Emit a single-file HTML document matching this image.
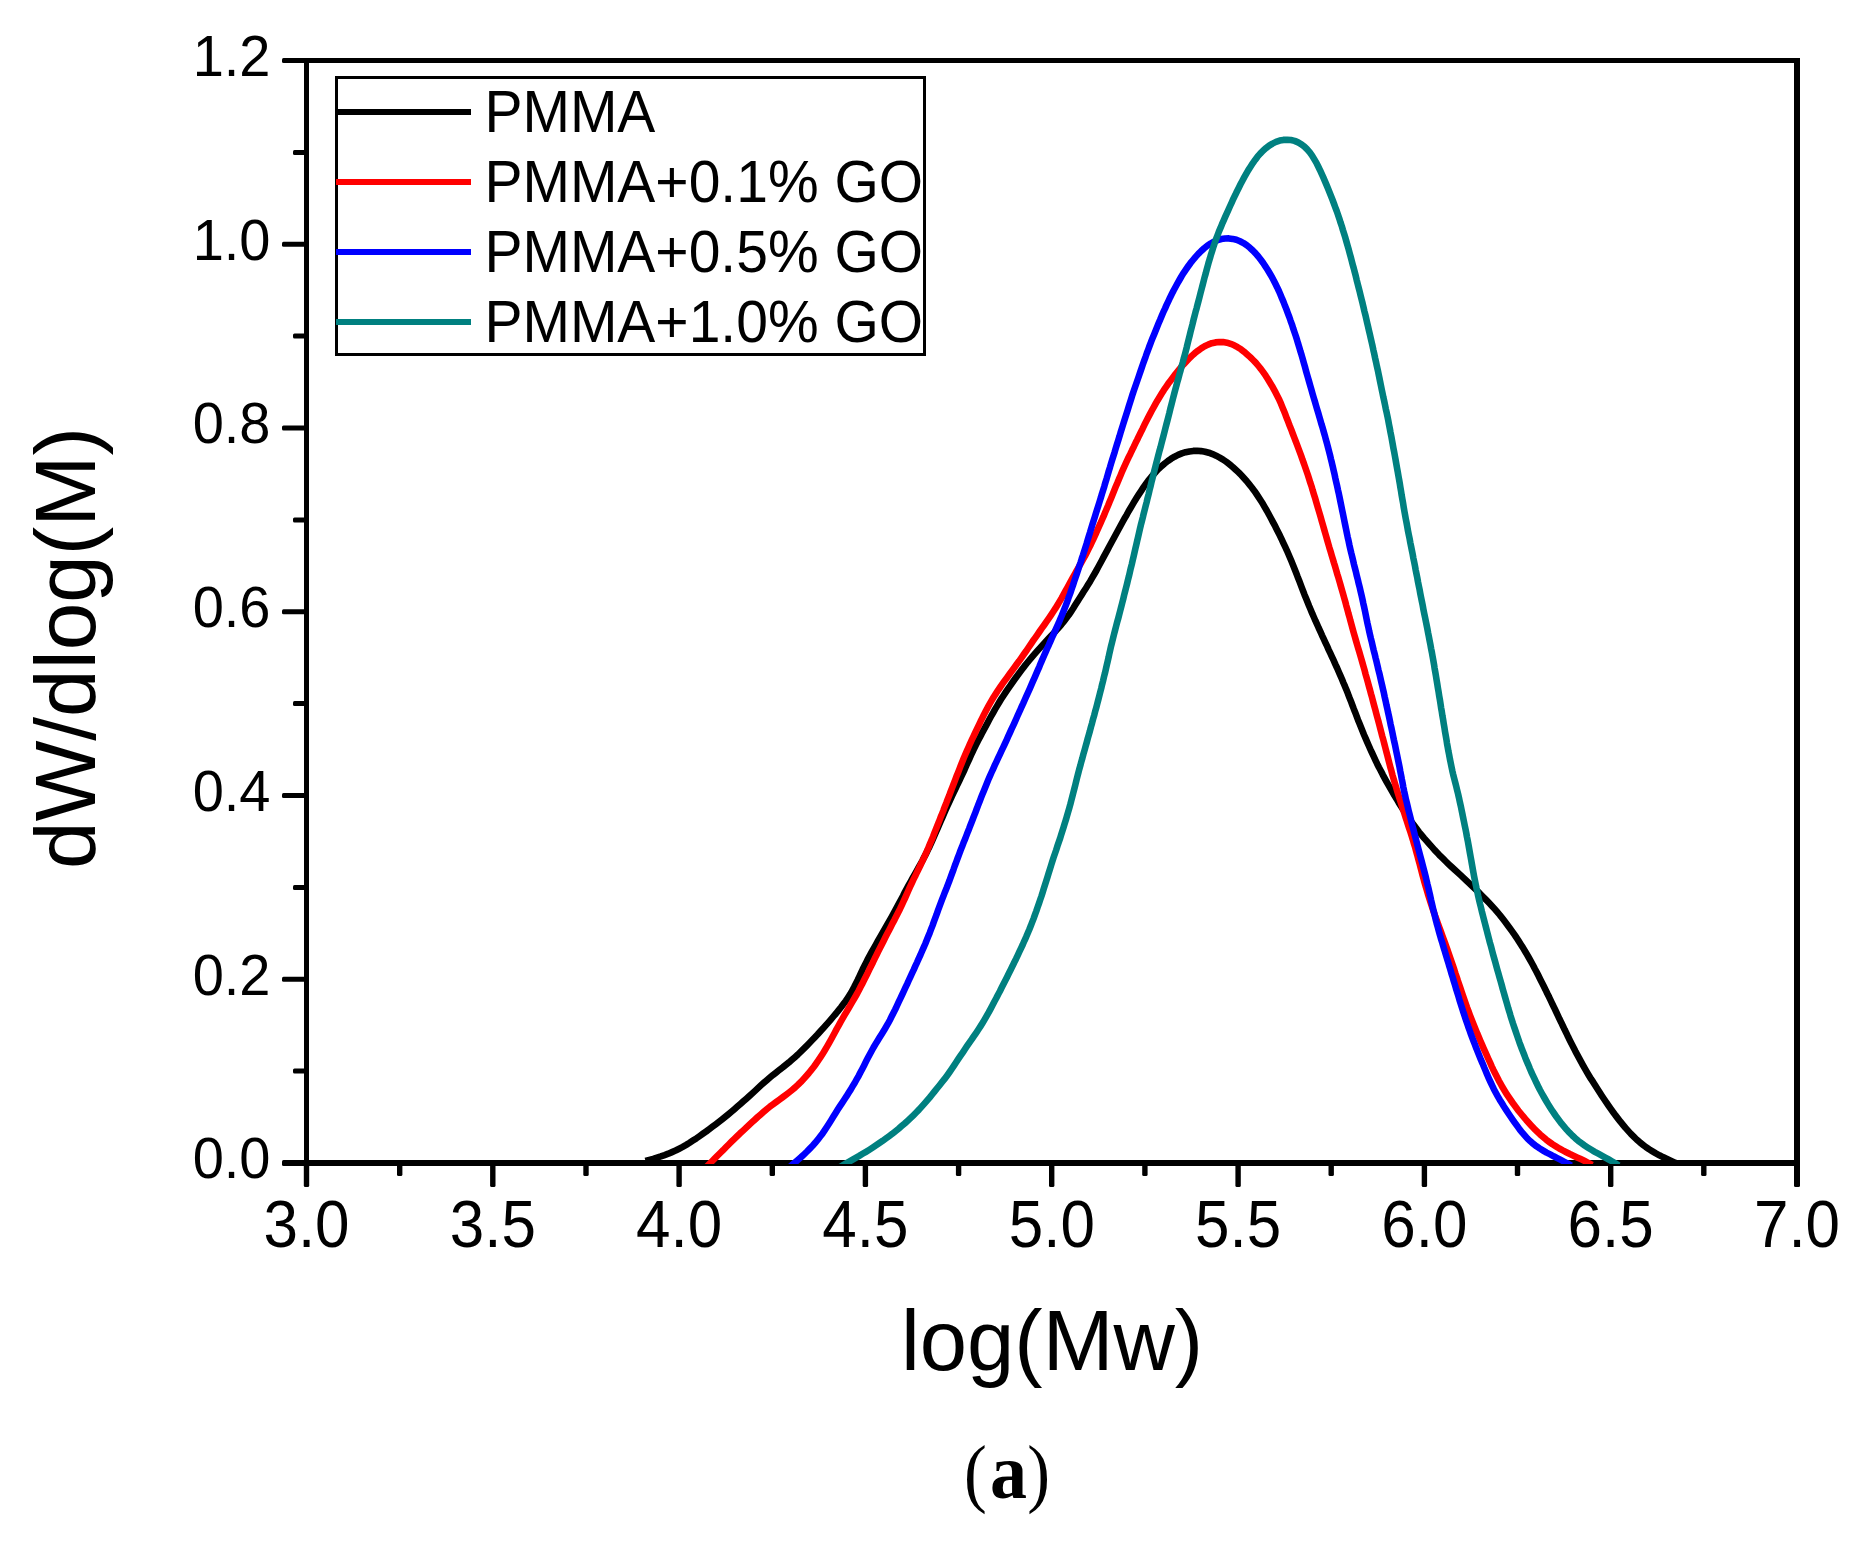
<!DOCTYPE html>
<html><head><meta charset="utf-8"><title>chart</title>
<style>
html,body{margin:0;padding:0;background:#fff;}
body{width:1862px;height:1542px;overflow:hidden;}
svg{display:block;}
text{font-family:"Liberation Sans",sans-serif;fill:#000;}
.ser{font-family:"Liberation Serif",serif;}
</style></head><body>
<svg width="1862" height="1542" viewBox="0 0 1862 1542">
<rect width="1862" height="1542" fill="#fff"/>

<g fill="#000" shape-rendering="crispEdges">
<rect x="304" y="58" width="5" height="1108"/>
<rect x="1794" y="58" width="6" height="1108"/>
<rect x="304" y="58" width="1496" height="5"/>
<rect x="304" y="1160" width="1496" height="6"/>
</g>
<g fill="#000">
<rect x="282" y="1160.0" width="24" height="6.0" rx="1.5"/>
<rect x="293" y="1068.6" width="13" height="5.0" rx="1.5"/>
<rect x="282" y="976.8" width="24" height="5.0" rx="1.5"/>
<rect x="293" y="884.9" width="13" height="5.0" rx="1.5"/>
<rect x="282" y="793.0" width="24" height="5.0" rx="1.5"/>
<rect x="293" y="701.1" width="13" height="5.0" rx="1.5"/>
<rect x="282" y="609.2" width="24" height="5.0" rx="1.5"/>
<rect x="293" y="517.4" width="13" height="5.0" rx="1.5"/>
<rect x="282" y="425.5" width="24" height="5.0" rx="1.5"/>
<rect x="293" y="333.6" width="13" height="5.0" rx="1.5"/>
<rect x="282" y="241.8" width="24" height="5.0" rx="1.5"/>
<rect x="293" y="149.9" width="13" height="5.0" rx="1.5"/>
<rect x="282" y="58.0" width="24" height="5.0" rx="1.5"/>
<rect x="303.8" y="1162" width="5.4" height="25" rx="1.5"/>
<rect x="397.0" y="1162" width="5.4" height="14" rx="1.5"/>
<rect x="490.1" y="1162" width="5.4" height="25" rx="1.5"/>
<rect x="583.3" y="1162" width="5.4" height="14" rx="1.5"/>
<rect x="676.4" y="1162" width="5.4" height="25" rx="1.5"/>
<rect x="769.6" y="1162" width="5.4" height="14" rx="1.5"/>
<rect x="862.7" y="1162" width="5.4" height="25" rx="1.5"/>
<rect x="955.9" y="1162" width="5.4" height="14" rx="1.5"/>
<rect x="1049.0" y="1162" width="5.4" height="25" rx="1.5"/>
<rect x="1142.2" y="1162" width="5.4" height="14" rx="1.5"/>
<rect x="1235.4" y="1162" width="5.4" height="25" rx="1.5"/>
<rect x="1328.5" y="1162" width="5.4" height="14" rx="1.5"/>
<rect x="1421.7" y="1162" width="5.4" height="25" rx="1.5"/>
<rect x="1514.8" y="1162" width="5.4" height="14" rx="1.5"/>
<rect x="1608.0" y="1162" width="5.4" height="25" rx="1.5"/>
<rect x="1701.1" y="1162" width="5.4" height="14" rx="1.5"/>
<rect x="1794.0" y="1162" width="6.0" height="25" rx="1.5"/>
</g>
<clipPath id="cp"><rect x="300" y="50" width="1510" height="1114"/></clipPath>
<g fill="none" stroke-width="6.6" stroke-linejoin="round" stroke-linecap="butt" clip-path="url(#cp)">
<path stroke="#000" d="M645.5,1161.0 L649.4,1159.9 L653.2,1158.8 L657.0,1157.6 L660.8,1156.4 L664.6,1155.1 L668.3,1153.7 L672.0,1152.1 L675.6,1150.5 L679.2,1148.7 L682.7,1146.9 L686.2,1144.9 L689.6,1142.8 L692.9,1140.6 L696.3,1138.4 L699.6,1136.1 L702.8,1133.8 L706.1,1131.5 L709.3,1129.1 L712.5,1126.7 L715.7,1124.3 L718.9,1121.9 L722.1,1119.4 L725.2,1116.9 L728.3,1114.4 L731.4,1111.8 L734.4,1109.2 L737.4,1106.6 L740.4,1104.0 L743.4,1101.3 L746.4,1098.7 L749.4,1096.0 L752.3,1093.3 L755.3,1090.6 L758.2,1087.9 L761.1,1085.2 L764.1,1082.5 L767.1,1079.9 L770.2,1077.3 L773.2,1074.8 L776.4,1072.3 L779.5,1069.8 L782.7,1067.4 L785.8,1064.9 L788.9,1062.4 L791.9,1059.8 L794.9,1057.2 L797.9,1054.5 L800.8,1051.7 L803.6,1048.9 L806.4,1046.1 L809.2,1043.2 L812.0,1040.3 L814.7,1037.4 L817.5,1034.5 L820.2,1031.5 L822.9,1028.6 L825.5,1025.6 L828.2,1022.6 L830.8,1019.6 L833.4,1016.5 L836.0,1013.5 L838.5,1010.4 L841.0,1007.3 L843.4,1004.1 L845.8,1000.9 L848.0,997.6 L850.1,994.3 L852.1,990.8 L854.0,987.3 L855.8,983.8 L857.6,980.2 L859.3,976.6 L861.0,973.0 L862.7,969.3 L864.5,965.7 L866.3,962.2 L868.1,958.6 L870.0,955.1 L871.9,951.6 L873.9,948.1 L875.9,944.6 L877.8,941.1 L879.8,937.6 L881.8,934.2 L883.8,930.7 L885.8,927.2 L887.8,923.7 L889.7,920.3 L891.7,916.8 L893.6,913.3 L895.5,909.8 L897.4,906.3 L899.3,902.7 L901.2,899.2 L903.1,895.7 L904.9,892.1 L906.8,888.6 L908.7,885.1 L910.7,881.6 L912.6,878.1 L914.6,874.6 L916.6,871.1 L918.5,867.7 L920.5,864.2 L922.4,860.7 L924.2,857.1 L926.1,853.6 L927.8,850.0 L929.6,846.4 L931.2,842.8 L932.9,839.1 L934.5,835.5 L936.1,831.8 L937.7,828.1 L939.3,824.5 L940.9,820.8 L942.5,817.1 L944.1,813.5 L945.7,809.8 L947.3,806.1 L949.0,802.5 L950.7,798.9 L952.4,795.2 L954.1,791.6 L955.8,788.0 L957.5,784.4 L959.3,780.8 L961.0,777.2 L962.7,773.6 L964.4,770.0 L966.0,766.3 L967.6,762.7 L969.3,759.0 L970.9,755.4 L972.6,751.8 L974.3,748.2 L976.1,744.6 L977.9,741.0 L979.8,737.5 L981.6,733.9 L983.5,730.4 L985.4,726.9 L987.3,723.4 L989.2,719.8 L991.1,716.3 L993.1,712.8 L995.0,709.4 L997.1,705.9 L999.1,702.5 L1001.2,699.1 L1003.4,695.7 L1005.6,692.4 L1007.8,689.1 L1010.1,685.8 L1012.4,682.5 L1014.7,679.3 L1017.1,676.0 L1019.5,672.8 L1021.9,669.6 L1024.3,666.4 L1026.8,663.3 L1029.3,660.2 L1031.9,657.1 L1034.5,654.1 L1037.1,651.1 L1039.8,648.1 L1042.5,645.1 L1045.2,642.2 L1047.9,639.3 L1050.7,636.3 L1053.4,633.4 L1056.1,630.5 L1058.8,627.5 L1061.4,624.5 L1063.9,621.4 L1066.3,618.3 L1068.7,615.1 L1070.9,611.8 L1073.1,608.5 L1075.2,605.1 L1077.3,601.7 L1079.5,598.3 L1081.6,594.9 L1083.7,591.6 L1085.9,588.2 L1088.0,584.8 L1090.1,581.4 L1092.1,577.9 L1094.1,574.5 L1096.1,571.0 L1098.0,567.5 L1099.9,564.0 L1101.8,560.5 L1103.7,556.9 L1105.6,553.4 L1107.5,549.9 L1109.4,546.3 L1111.3,542.8 L1113.2,539.3 L1115.1,535.8 L1117.0,532.3 L1118.9,528.8 L1120.8,525.2 L1122.7,521.7 L1124.7,518.2 L1126.7,514.8 L1128.6,511.3 L1130.7,507.8 L1132.7,504.4 L1134.7,500.9 L1136.8,497.5 L1139.0,494.1 L1141.2,490.8 L1143.4,487.4 L1145.7,484.2 L1148.1,480.9 L1150.6,477.8 L1153.2,474.7 L1155.9,471.7 L1158.7,468.8 L1161.6,466.1 L1164.7,463.5 L1167.9,461.0 L1171.2,458.7 L1174.6,456.7 L1178.1,454.9 L1181.8,453.4 L1185.6,452.2 L1189.4,451.4 L1193.3,450.9 L1197.2,450.8 L1201.1,451.1 L1205.0,451.7 L1208.8,452.7 L1212.5,454.1 L1216.1,455.7 L1219.7,457.6 L1223.1,459.6 L1226.4,461.9 L1229.6,464.4 L1232.7,467.0 L1235.7,469.7 L1238.6,472.4 L1241.4,475.3 L1244.1,478.3 L1246.8,481.3 L1249.3,484.4 L1251.8,487.5 L1254.2,490.7 L1256.5,494.0 L1258.7,497.3 L1260.9,500.7 L1263.0,504.1 L1265.0,507.6 L1267.0,511.0 L1268.9,514.5 L1270.8,518.0 L1272.7,521.6 L1274.6,525.1 L1276.4,528.7 L1278.2,532.3 L1280.0,535.8 L1281.7,539.4 L1283.4,543.1 L1285.1,546.7 L1286.8,550.3 L1288.4,554.0 L1290.0,557.7 L1291.5,561.3 L1293.0,565.0 L1294.5,568.8 L1296.0,572.5 L1297.4,576.2 L1298.9,579.9 L1300.3,583.7 L1301.7,587.4 L1303.2,591.2 L1304.6,594.9 L1306.1,598.6 L1307.6,602.3 L1309.1,606.0 L1310.7,609.7 L1312.2,613.4 L1313.8,617.0 L1315.4,620.7 L1317.1,624.4 L1318.7,628.0 L1320.4,631.6 L1322.0,635.3 L1323.7,638.9 L1325.4,642.6 L1327.1,646.2 L1328.7,649.8 L1330.4,653.4 L1332.1,657.1 L1333.8,660.7 L1335.4,664.4 L1337.1,668.0 L1338.7,671.7 L1340.3,675.3 L1341.9,679.0 L1343.4,682.7 L1345.0,686.4 L1346.5,690.1 L1348.0,693.8 L1349.4,697.5 L1350.9,701.2 L1352.3,705.0 L1353.7,708.7 L1355.2,712.4 L1356.6,716.2 L1358.0,719.9 L1359.5,723.6 L1361.0,727.3 L1362.5,731.0 L1364.0,734.7 L1365.6,738.4 L1367.2,742.1 L1368.8,745.8 L1370.4,749.4 L1372.1,753.0 L1373.8,756.7 L1375.5,760.3 L1377.2,763.9 L1379.0,767.5 L1380.9,771.0 L1382.7,774.6 L1384.6,778.1 L1386.5,781.6 L1388.5,785.1 L1390.5,788.6 L1392.5,792.0 L1394.5,795.5 L1396.6,798.9 L1398.6,802.4 L1400.7,805.8 L1402.9,809.2 L1405.1,812.5 L1407.3,815.9 L1409.5,819.2 L1411.8,822.4 L1414.2,825.6 L1416.6,828.8 L1419.0,832.0 L1421.6,835.1 L1424.1,838.1 L1426.8,841.1 L1429.4,844.1 L1432.1,847.1 L1434.7,850.1 L1437.5,853.0 L1440.2,855.9 L1443.1,858.7 L1445.9,861.5 L1448.8,864.3 L1451.7,867.0 L1454.7,869.7 L1457.6,872.4 L1460.6,875.1 L1463.5,877.8 L1466.4,880.6 L1469.3,883.3 L1472.2,886.1 L1475.1,888.8 L1478.0,891.6 L1480.8,894.5 L1483.6,897.3 L1486.4,900.1 L1489.2,903.0 L1491.9,905.9 L1494.6,908.9 L1497.2,911.9 L1499.8,915.0 L1502.2,918.1 L1504.7,921.3 L1507.1,924.5 L1509.5,927.7 L1511.8,930.9 L1514.1,934.2 L1516.4,937.5 L1518.6,940.9 L1520.7,944.2 L1522.9,947.6 L1524.9,951.0 L1527.0,954.5 L1529.0,958.0 L1530.9,961.4 L1532.9,965.0 L1534.7,968.5 L1536.6,972.0 L1538.4,975.6 L1540.2,979.2 L1542.0,982.7 L1543.8,986.3 L1545.6,989.9 L1547.3,993.5 L1549.1,997.1 L1550.8,1000.7 L1552.5,1004.3 L1554.3,1007.9 L1556.0,1011.5 L1557.7,1015.2 L1559.4,1018.8 L1561.2,1022.4 L1562.9,1026.0 L1564.6,1029.6 L1566.4,1033.2 L1568.1,1036.8 L1569.9,1040.4 L1571.7,1043.9 L1573.5,1047.5 L1575.3,1051.1 L1577.2,1054.6 L1579.1,1058.1 L1581.0,1061.6 L1582.9,1065.1 L1584.9,1068.6 L1586.9,1072.1 L1588.9,1075.5 L1591.0,1078.9 L1593.2,1082.2 L1595.3,1085.6 L1597.5,1089.0 L1599.6,1092.3 L1601.8,1095.7 L1604.0,1099.0 L1606.3,1102.3 L1608.5,1105.6 L1610.8,1108.9 L1613.2,1112.2 L1615.5,1115.4 L1618.0,1118.6 L1620.4,1121.7 L1623.0,1124.9 L1625.5,1127.9 L1628.2,1130.9 L1630.9,1133.9 L1633.7,1136.7 L1636.6,1139.5 L1639.6,1142.1 L1642.7,1144.6 L1645.8,1147.0 L1649.1,1149.3 L1652.5,1151.4 L1655.9,1153.4 L1659.4,1155.3 L1663.0,1157.1 L1666.6,1158.8 L1670.2,1160.5 L1673.9,1162.2 L1675.9,1163.1"/>
<path stroke="#f00" d="M703.3,1170.0 L706.1,1167.2 L709.0,1164.3 L711.8,1161.5 L714.6,1158.7 L717.4,1155.8 L720.2,1153.0 L723.1,1150.2 L725.9,1147.3 L728.7,1144.5 L731.5,1141.7 L734.4,1138.9 L737.2,1136.1 L740.1,1133.3 L743.1,1130.6 L746.0,1127.9 L748.9,1125.1 L751.8,1122.4 L754.8,1119.7 L757.7,1117.0 L760.7,1114.4 L763.7,1111.8 L766.7,1109.2 L769.8,1106.7 L773.0,1104.3 L776.2,1102.0 L779.5,1099.6 L782.7,1097.3 L785.9,1094.9 L789.0,1092.5 L792.1,1090.0 L795.2,1087.4 L798.1,1084.7 L800.9,1081.9 L803.6,1079.0 L806.3,1076.0 L808.9,1073.0 L811.4,1069.9 L813.9,1066.7 L816.2,1063.5 L818.5,1060.2 L820.7,1056.9 L822.9,1053.5 L825.0,1050.1 L827.0,1046.7 L829.0,1043.2 L830.9,1039.7 L832.8,1036.2 L834.7,1032.7 L836.6,1029.1 L838.6,1025.6 L840.5,1022.1 L842.5,1018.7 L844.5,1015.2 L846.5,1011.8 L848.6,1008.3 L850.6,1004.9 L852.6,1001.4 L854.6,998.0 L856.6,994.5 L858.5,991.0 L860.3,987.4 L862.2,983.9 L864.0,980.3 L865.8,976.7 L867.6,973.2 L869.3,969.6 L871.1,966.0 L872.9,962.4 L874.6,958.8 L876.4,955.2 L878.2,951.6 L880.0,948.1 L881.8,944.5 L883.6,940.9 L885.4,937.3 L887.2,933.8 L889.1,930.2 L890.9,926.7 L892.7,923.1 L894.6,919.6 L896.4,916.0 L898.2,912.4 L900.0,908.9 L901.7,905.3 L903.4,901.7 L905.1,898.0 L906.7,894.4 L908.3,890.7 L909.9,887.1 L911.6,883.5 L913.3,879.8 L915.1,876.3 L916.8,872.7 L918.6,869.1 L920.3,865.5 L922.0,861.9 L923.7,858.3 L925.4,854.6 L927.0,851.0 L928.6,847.3 L930.1,843.6 L931.7,839.9 L933.2,836.2 L934.6,832.5 L936.1,828.8 L937.6,825.0 L939.1,821.3 L940.5,817.6 L942.0,813.9 L943.5,810.2 L944.9,806.4 L946.4,802.7 L947.8,799.0 L949.3,795.3 L950.7,791.5 L952.1,787.8 L953.6,784.0 L955.0,780.3 L956.4,776.6 L957.9,772.9 L959.4,769.1 L960.8,765.4 L962.3,761.7 L963.8,758.0 L965.4,754.3 L967.0,750.6 L968.6,747.0 L970.2,743.3 L971.9,739.7 L973.6,736.1 L975.3,732.5 L977.0,728.9 L978.8,725.2 L980.5,721.6 L982.3,718.0 L984.0,714.5 L985.9,710.9 L987.7,707.4 L989.7,703.9 L991.7,700.4 L993.7,697.0 L995.9,693.6 L998.0,690.3 L1000.3,687.0 L1002.6,683.7 L1004.9,680.4 L1007.3,677.2 L1009.6,674.0 L1012.0,670.8 L1014.4,667.5 L1016.7,664.3 L1019.1,661.1 L1021.4,657.8 L1023.7,654.5 L1026.0,651.3 L1028.2,648.0 L1030.5,644.6 L1032.7,641.3 L1035.0,638.1 L1037.3,634.8 L1039.6,631.5 L1041.9,628.2 L1044.2,625.0 L1046.5,621.7 L1048.8,618.4 L1051.0,615.1 L1053.2,611.7 L1055.4,608.4 L1057.5,605.0 L1059.5,601.6 L1061.6,598.1 L1063.5,594.6 L1065.4,591.1 L1067.4,587.6 L1069.3,584.1 L1071.2,580.6 L1073.1,577.1 L1075.1,573.6 L1077.0,570.1 L1079.0,566.7 L1081.0,563.2 L1082.9,559.7 L1084.9,556.2 L1086.7,552.7 L1088.5,549.1 L1090.3,545.5 L1092.0,541.9 L1093.7,538.3 L1095.4,534.7 L1097.0,531.0 L1098.6,527.4 L1100.3,523.7 L1101.9,520.0 L1103.5,516.4 L1105.0,512.7 L1106.6,509.0 L1108.2,505.3 L1109.7,501.6 L1111.2,497.9 L1112.7,494.2 L1114.2,490.5 L1115.7,486.8 L1117.3,483.1 L1118.8,479.4 L1120.4,475.7 L1121.9,472.1 L1123.5,468.4 L1125.2,464.7 L1126.8,461.1 L1128.5,457.5 L1130.3,453.9 L1132.0,450.3 L1133.8,446.7 L1135.5,443.1 L1137.3,439.5 L1139.0,435.9 L1140.8,432.3 L1142.6,428.7 L1144.3,425.1 L1146.1,421.6 L1147.9,418.0 L1149.8,414.4 L1151.6,410.9 L1153.6,407.4 L1155.5,403.9 L1157.5,400.4 L1159.6,397.0 L1161.7,393.6 L1163.8,390.2 L1166.1,386.9 L1168.3,383.6 L1170.7,380.4 L1173.1,377.2 L1175.5,374.0 L1178.1,370.8 L1180.7,367.7 L1183.3,364.7 L1186.1,361.7 L1188.9,358.8 L1191.8,355.9 L1194.8,353.2 L1198.0,350.7 L1201.2,348.4 L1204.6,346.3 L1208.1,344.6 L1211.8,343.2 L1215.5,342.4 L1219.3,342.0 L1223.1,342.1 L1226.9,342.7 L1230.6,343.8 L1234.2,345.3 L1237.6,347.2 L1241.0,349.3 L1244.2,351.8 L1247.2,354.4 L1250.2,357.1 L1253.1,360.0 L1255.9,362.9 L1258.5,366.0 L1261.0,369.1 L1263.4,372.4 L1265.7,375.7 L1267.8,379.0 L1269.9,382.5 L1272.0,385.9 L1273.9,389.4 L1275.8,392.9 L1277.6,396.5 L1279.4,400.1 L1281.0,403.7 L1282.5,407.4 L1284.0,411.1 L1285.5,414.8 L1286.9,418.6 L1288.4,422.3 L1289.8,426.0 L1291.3,429.7 L1292.7,433.5 L1294.1,437.2 L1295.6,441.0 L1297.0,444.7 L1298.4,448.4 L1299.8,452.2 L1301.2,455.9 L1302.5,459.7 L1303.9,463.5 L1305.2,467.3 L1306.5,471.0 L1307.8,474.8 L1309.0,478.6 L1310.2,482.4 L1311.5,486.2 L1312.6,490.1 L1313.8,493.9 L1315.0,497.7 L1316.1,501.6 L1317.2,505.4 L1318.3,509.2 L1319.5,513.1 L1320.6,516.9 L1321.7,520.8 L1322.8,524.6 L1323.9,528.5 L1325.0,532.3 L1326.1,536.1 L1327.2,540.0 L1328.3,543.8 L1329.4,547.7 L1330.6,551.5 L1331.7,555.3 L1332.9,559.2 L1334.0,563.0 L1335.2,566.8 L1336.3,570.7 L1337.4,574.5 L1338.6,578.3 L1339.7,582.2 L1340.8,586.0 L1341.9,589.9 L1343.0,593.7 L1344.1,597.6 L1345.2,601.4 L1346.2,605.3 L1347.3,609.1 L1348.3,613.0 L1349.4,616.8 L1350.4,620.7 L1351.5,624.6 L1352.5,628.4 L1353.6,632.3 L1354.7,636.1 L1355.8,640.0 L1356.9,643.8 L1358.0,647.6 L1359.2,651.5 L1360.3,655.3 L1361.4,659.2 L1362.5,663.0 L1363.6,666.9 L1364.7,670.7 L1365.7,674.6 L1366.8,678.4 L1367.9,682.3 L1368.9,686.1 L1370.0,690.0 L1371.0,693.9 L1372.1,697.7 L1373.1,701.6 L1374.1,705.4 L1375.2,709.3 L1376.2,713.2 L1377.2,717.0 L1378.3,720.9 L1379.3,724.8 L1380.3,728.6 L1381.3,732.5 L1382.3,736.4 L1383.4,740.2 L1384.4,744.1 L1385.4,748.0 L1386.4,751.9 L1387.4,755.7 L1388.4,759.6 L1389.4,763.5 L1390.4,767.3 L1391.5,771.2 L1392.5,775.1 L1393.6,778.9 L1394.7,782.7 L1395.9,786.6 L1397.0,790.4 L1398.2,794.2 L1399.4,798.0 L1400.6,801.9 L1401.8,805.7 L1403.0,809.5 L1404.3,813.3 L1405.5,817.1 L1406.8,820.9 L1408.0,824.7 L1409.2,828.5 L1410.5,832.3 L1411.7,836.1 L1412.9,839.9 L1414.0,843.8 L1415.2,847.6 L1416.2,851.4 L1417.3,855.3 L1418.3,859.2 L1419.4,863.0 L1420.4,866.9 L1421.4,870.8 L1422.4,874.6 L1423.5,878.5 L1424.5,882.3 L1425.6,886.2 L1426.8,890.0 L1427.9,893.9 L1429.1,897.7 L1430.3,901.5 L1431.5,905.3 L1432.8,909.1 L1434.1,912.9 L1435.4,916.7 L1436.8,920.4 L1438.1,924.2 L1439.5,927.9 L1440.9,931.7 L1442.2,935.4 L1443.6,939.2 L1445.0,943.0 L1446.3,946.7 L1447.7,950.5 L1449.0,954.3 L1450.3,958.0 L1451.6,961.8 L1452.9,965.6 L1454.2,969.4 L1455.4,973.2 L1456.7,977.0 L1457.9,980.8 L1459.2,984.6 L1460.5,988.4 L1461.8,992.2 L1463.1,996.0 L1464.4,999.8 L1465.7,1003.5 L1467.0,1007.3 L1468.4,1011.0 L1469.8,1014.8 L1471.2,1018.5 L1472.7,1022.3 L1474.2,1026.0 L1475.7,1029.7 L1477.2,1033.4 L1478.8,1037.1 L1480.3,1040.7 L1481.9,1044.4 L1483.5,1048.1 L1485.1,1051.7 L1486.8,1055.4 L1488.4,1059.0 L1490.1,1062.7 L1491.7,1066.3 L1493.4,1069.9 L1495.2,1073.5 L1497.0,1077.1 L1498.8,1080.6 L1500.8,1084.1 L1502.7,1087.6 L1504.8,1091.0 L1506.9,1094.4 L1509.1,1097.7 L1511.4,1101.0 L1513.7,1104.3 L1516.1,1107.5 L1518.5,1110.7 L1521.0,1113.8 L1523.6,1116.9 L1526.2,1120.0 L1528.9,1123.0 L1531.6,1125.9 L1534.3,1128.8 L1537.2,1131.6 L1540.1,1134.4 L1543.1,1137.0 L1546.1,1139.6 L1549.3,1142.0 L1552.5,1144.3 L1555.9,1146.4 L1559.3,1148.5 L1562.8,1150.4 L1566.3,1152.2 L1569.9,1154.0 L1573.5,1155.7 L1577.1,1157.4 L1580.7,1159.1 L1584.3,1160.8 L1587.8,1162.6 L1591.3,1164.5 L1592.3,1165.0"/>
<path stroke="#00f" d="M786.1,1170.1 L789.1,1167.5 L792.2,1164.9 L795.2,1162.3 L798.2,1159.6 L801.2,1157.0 L804.1,1154.3 L807.0,1151.5 L809.8,1148.6 L812.6,1145.7 L815.2,1142.8 L817.8,1139.7 L820.2,1136.6 L822.6,1133.4 L824.8,1130.1 L827.0,1126.7 L829.1,1123.4 L831.3,1120.0 L833.4,1116.6 L835.5,1113.2 L837.6,1109.8 L839.8,1106.4 L842.0,1103.1 L844.2,1099.7 L846.4,1096.4 L848.5,1093.0 L850.7,1089.6 L852.7,1086.2 L854.8,1082.8 L856.7,1079.3 L858.7,1075.8 L860.5,1072.3 L862.4,1068.7 L864.2,1065.2 L866.0,1061.6 L867.8,1058.1 L869.7,1054.5 L871.6,1051.0 L873.5,1047.5 L875.5,1044.1 L877.6,1040.7 L879.7,1037.3 L881.8,1034.0 L883.9,1030.6 L885.9,1027.1 L887.9,1023.7 L889.8,1020.2 L891.6,1016.6 L893.4,1013.0 L895.2,1009.5 L896.9,1005.9 L898.6,1002.2 L900.3,998.6 L902.0,995.0 L903.7,991.4 L905.4,987.7 L907.1,984.1 L908.7,980.5 L910.4,976.8 L912.1,973.2 L913.8,969.6 L915.4,965.9 L917.1,962.3 L918.7,958.6 L920.4,955.0 L922.0,951.3 L923.6,947.7 L925.2,944.0 L926.7,940.3 L928.2,936.6 L929.7,932.9 L931.1,929.2 L932.6,925.4 L933.9,921.7 L935.3,917.9 L936.7,914.2 L938.0,910.4 L939.4,906.6 L940.8,902.9 L942.2,899.2 L943.7,895.4 L945.1,891.7 L946.6,888.0 L948.0,884.3 L949.5,880.5 L950.8,876.8 L952.2,873.0 L953.6,869.3 L954.9,865.5 L956.3,861.8 L957.7,858.0 L959.1,854.3 L960.5,850.5 L962.0,846.8 L963.4,843.1 L964.9,839.4 L966.4,835.6 L967.8,831.9 L969.3,828.2 L970.7,824.5 L972.2,820.7 L973.6,817.0 L975.1,813.3 L976.5,809.5 L977.9,805.8 L979.4,802.1 L980.8,798.3 L982.3,794.6 L983.8,790.9 L985.3,787.2 L986.8,783.5 L988.3,779.8 L989.9,776.1 L991.5,772.5 L993.2,768.8 L994.8,765.2 L996.5,761.6 L998.2,757.9 L999.9,754.3 L1001.6,750.7 L1003.3,747.1 L1005.0,743.5 L1006.7,739.8 L1008.3,736.2 L1010.0,732.5 L1011.6,728.9 L1013.3,725.3 L1015.0,721.6 L1016.6,718.0 L1018.2,714.3 L1019.9,710.7 L1021.5,707.0 L1023.2,703.4 L1024.8,699.7 L1026.4,696.1 L1028.1,692.4 L1029.7,688.8 L1031.3,685.1 L1032.9,681.4 L1034.5,677.8 L1036.1,674.1 L1037.7,670.4 L1039.3,666.8 L1040.8,663.1 L1042.4,659.4 L1044.0,655.7 L1045.6,652.1 L1047.2,648.4 L1048.9,644.8 L1050.5,641.1 L1052.1,637.5 L1053.8,633.8 L1055.4,630.2 L1057.1,626.5 L1058.7,622.9 L1060.2,619.2 L1061.8,615.5 L1063.3,611.8 L1064.8,608.1 L1066.2,604.3 L1067.6,600.6 L1068.9,596.8 L1070.3,593.1 L1071.6,589.3 L1072.9,585.5 L1074.1,581.7 L1075.4,577.9 L1076.7,574.1 L1078.0,570.3 L1079.2,566.5 L1080.5,562.7 L1081.7,558.9 L1083.0,555.1 L1084.2,551.3 L1085.4,547.5 L1086.6,543.7 L1087.7,539.9 L1088.9,536.0 L1090.1,532.2 L1091.2,528.4 L1092.4,524.6 L1093.6,520.7 L1094.8,516.9 L1096.0,513.1 L1097.2,509.3 L1098.4,505.5 L1099.6,501.6 L1100.8,497.8 L1101.9,494.0 L1103.1,490.2 L1104.3,486.4 L1105.4,482.5 L1106.6,478.7 L1107.7,474.9 L1108.8,471.0 L1110.0,467.2 L1111.1,463.4 L1112.3,459.5 L1113.5,455.7 L1114.7,451.9 L1115.8,448.1 L1117.0,444.2 L1118.2,440.4 L1119.4,436.6 L1120.5,432.8 L1121.7,429.0 L1122.9,425.1 L1124.1,421.3 L1125.3,417.5 L1126.5,413.7 L1127.7,409.9 L1128.9,406.0 L1130.1,402.2 L1131.3,398.4 L1132.5,394.6 L1133.8,390.8 L1135.1,387.0 L1136.4,383.2 L1137.7,379.5 L1139.0,375.7 L1140.3,371.9 L1141.6,368.1 L1142.9,364.3 L1144.2,360.6 L1145.6,356.8 L1146.9,353.0 L1148.3,349.3 L1149.7,345.5 L1151.1,341.8 L1152.6,338.1 L1154.1,334.4 L1155.6,330.7 L1157.1,327.0 L1158.6,323.3 L1160.2,319.6 L1161.7,315.9 L1163.3,312.2 L1165.0,308.6 L1166.6,304.9 L1168.3,301.3 L1170.0,297.7 L1171.8,294.1 L1173.6,290.5 L1175.5,287.0 L1177.4,283.5 L1179.4,280.0 L1181.4,276.5 L1183.5,273.1 L1185.7,269.8 L1188.0,266.5 L1190.4,263.2 L1193.0,260.0 L1195.6,256.9 L1198.3,253.9 L1201.2,251.0 L1204.2,248.3 L1207.3,245.8 L1210.6,243.6 L1214.0,241.7 L1217.6,240.2 L1221.3,239.1 L1225.1,238.5 L1228.9,238.4 L1232.7,238.9 L1236.4,239.8 L1240.0,241.3 L1243.5,243.1 L1246.8,245.3 L1249.9,247.8 L1252.8,250.5 L1255.6,253.4 L1258.3,256.5 L1260.8,259.7 L1263.2,263.0 L1265.4,266.3 L1267.6,269.7 L1269.7,273.2 L1271.7,276.7 L1273.6,280.2 L1275.4,283.8 L1277.2,287.4 L1278.9,291.0 L1280.5,294.7 L1282.0,298.4 L1283.6,302.1 L1285.0,305.8 L1286.5,309.5 L1287.9,313.3 L1289.3,317.0 L1290.6,320.8 L1292.0,324.6 L1293.2,328.4 L1294.5,332.2 L1295.8,336.0 L1297.0,339.8 L1298.1,343.6 L1299.3,347.4 L1300.4,351.3 L1301.6,355.1 L1302.7,358.9 L1303.8,362.8 L1304.9,366.6 L1305.9,370.5 L1307.0,374.3 L1308.1,378.2 L1309.2,382.0 L1310.3,385.9 L1311.4,389.7 L1312.5,393.6 L1313.6,397.4 L1314.8,401.3 L1315.9,405.1 L1317.0,408.9 L1318.2,412.8 L1319.3,416.6 L1320.4,420.4 L1321.5,424.3 L1322.7,428.1 L1323.8,432.0 L1324.9,435.8 L1325.9,439.7 L1327.0,443.5 L1328.0,447.4 L1329.0,451.3 L1330.0,455.1 L1330.9,459.0 L1331.9,462.9 L1332.8,466.8 L1333.7,470.7 L1334.6,474.6 L1335.4,478.5 L1336.3,482.4 L1337.2,486.3 L1338.0,490.2 L1338.9,494.1 L1339.7,498.0 L1340.5,502.0 L1341.3,505.9 L1342.1,509.8 L1342.9,513.7 L1343.7,517.6 L1344.5,521.6 L1345.3,525.5 L1346.1,529.4 L1346.9,533.3 L1347.7,537.2 L1348.6,541.1 L1349.4,545.0 L1350.3,548.9 L1351.2,552.8 L1352.2,556.7 L1353.1,560.6 L1354.0,564.5 L1355.0,568.4 L1356.0,572.3 L1356.9,576.2 L1357.9,580.0 L1358.8,583.9 L1359.8,587.8 L1360.7,591.7 L1361.6,595.6 L1362.5,599.5 L1363.3,603.4 L1364.2,607.3 L1365.0,611.2 L1365.8,615.2 L1366.6,619.1 L1367.4,623.0 L1368.3,626.9 L1369.1,630.8 L1370.0,634.7 L1370.9,638.6 L1371.9,642.5 L1372.8,646.4 L1373.7,650.3 L1374.7,654.1 L1375.6,658.0 L1376.6,661.9 L1377.5,665.8 L1378.4,669.7 L1379.4,673.6 L1380.3,677.5 L1381.2,681.4 L1382.1,685.3 L1383.0,689.2 L1383.9,693.1 L1384.7,697.0 L1385.6,700.9 L1386.4,704.8 L1387.3,708.7 L1388.1,712.6 L1389.0,716.5 L1389.8,720.4 L1390.6,724.4 L1391.5,728.3 L1392.3,732.2 L1393.1,736.1 L1393.9,740.0 L1394.8,743.9 L1395.6,747.8 L1396.4,751.8 L1397.2,755.7 L1398.0,759.6 L1398.8,763.5 L1399.6,767.4 L1400.3,771.4 L1401.1,775.3 L1401.8,779.2 L1402.6,783.1 L1403.3,787.1 L1404.1,791.0 L1405.0,794.9 L1405.8,798.8 L1406.8,802.7 L1407.7,806.6 L1408.6,810.4 L1409.6,814.3 L1410.6,818.2 L1411.5,822.1 L1412.5,826.0 L1413.5,829.8 L1414.5,833.7 L1415.5,837.6 L1416.5,841.5 L1417.5,845.3 L1418.5,849.2 L1419.5,853.1 L1420.5,856.9 L1421.6,860.8 L1422.6,864.7 L1423.6,868.6 L1424.6,872.4 L1425.6,876.3 L1426.5,880.2 L1427.4,884.1 L1428.4,888.0 L1429.3,891.9 L1430.2,895.8 L1431.0,899.7 L1431.9,903.6 L1432.8,907.5 L1433.7,911.4 L1434.7,915.2 L1435.6,919.1 L1436.6,923.0 L1437.7,926.9 L1438.7,930.7 L1439.8,934.6 L1440.9,938.4 L1442.1,942.2 L1443.2,946.1 L1444.4,949.9 L1445.5,953.7 L1446.7,957.6 L1447.9,961.4 L1449.0,965.2 L1450.2,969.0 L1451.3,972.9 L1452.5,976.7 L1453.6,980.5 L1454.8,984.4 L1455.9,988.2 L1457.1,992.0 L1458.3,995.9 L1459.4,999.7 L1460.6,1003.5 L1461.8,1007.3 L1463.0,1011.1 L1464.3,1014.9 L1465.5,1018.7 L1466.8,1022.5 L1468.1,1026.3 L1469.5,1030.1 L1470.8,1033.8 L1472.2,1037.6 L1473.6,1041.3 L1475.1,1045.0 L1476.5,1048.8 L1478.0,1052.5 L1479.5,1056.2 L1481.0,1059.9 L1482.6,1063.6 L1484.1,1067.3 L1485.7,1071.0 L1487.2,1074.7 L1488.8,1078.3 L1490.5,1082.0 L1492.2,1085.6 L1493.9,1089.2 L1495.8,1092.7 L1497.7,1096.2 L1499.7,1099.7 L1501.8,1103.1 L1503.9,1106.5 L1506.1,1109.8 L1508.3,1113.2 L1510.5,1116.5 L1512.8,1119.8 L1515.1,1123.1 L1517.5,1126.4 L1519.8,1129.6 L1522.3,1132.7 L1524.9,1135.7 L1527.5,1138.6 L1530.4,1141.3 L1533.4,1143.9 L1536.5,1146.3 L1539.8,1148.5 L1543.2,1150.6 L1546.6,1152.6 L1550.2,1154.4 L1553.7,1156.3 L1557.3,1158.1 L1560.8,1159.9 L1564.4,1161.8 L1567.9,1163.7 L1571.3,1165.6"/>
<path stroke="#008080" d="M835.0,1169.9 L838.4,1167.9 L841.9,1165.9 L845.3,1163.9 L848.8,1161.9 L852.2,1159.9 L855.7,1157.9 L859.2,1155.9 L862.6,1153.8 L866.0,1151.8 L869.4,1149.7 L872.8,1147.5 L876.1,1145.3 L879.4,1143.0 L882.7,1140.8 L886.0,1138.4 L889.2,1136.1 L892.4,1133.7 L895.5,1131.2 L898.6,1128.7 L901.6,1126.1 L904.7,1123.5 L907.6,1120.8 L910.5,1118.1 L913.4,1115.3 L916.2,1112.5 L919.0,1109.6 L921.7,1106.6 L924.4,1103.6 L927.0,1100.6 L929.6,1097.6 L932.1,1094.5 L934.6,1091.4 L937.1,1088.3 L939.6,1085.2 L942.1,1082.0 L944.6,1078.9 L947.0,1075.7 L949.3,1072.5 L951.6,1069.2 L953.8,1065.9 L956.0,1062.5 L958.2,1059.2 L960.4,1055.9 L962.7,1052.6 L964.9,1049.2 L967.1,1045.9 L969.4,1042.6 L971.7,1039.4 L973.9,1036.1 L976.2,1032.8 L978.4,1029.5 L980.6,1026.1 L982.7,1022.7 L984.7,1019.3 L986.7,1015.8 L988.7,1012.4 L990.6,1008.9 L992.5,1005.3 L994.3,1001.8 L996.2,998.3 L998.0,994.7 L999.9,991.2 L1001.7,987.6 L1003.5,984.0 L1005.3,980.5 L1007.1,976.9 L1008.9,973.3 L1010.7,969.7 L1012.5,966.1 L1014.2,962.5 L1016.0,958.9 L1017.7,955.3 L1019.4,951.7 L1021.1,948.1 L1022.8,944.5 L1024.4,940.8 L1026.1,937.1 L1027.6,933.5 L1029.2,929.8 L1030.7,926.1 L1032.1,922.4 L1033.6,918.6 L1034.9,914.9 L1036.3,911.1 L1037.6,907.3 L1038.9,903.6 L1040.2,899.8 L1041.5,896.0 L1042.7,892.2 L1043.9,888.3 L1045.1,884.5 L1046.3,880.7 L1047.5,876.9 L1048.7,873.1 L1049.9,869.3 L1051.1,865.4 L1052.3,861.6 L1053.5,857.8 L1054.8,854.0 L1056.1,850.2 L1057.3,846.4 L1058.6,842.7 L1059.9,838.9 L1061.1,835.1 L1062.3,831.2 L1063.5,827.4 L1064.7,823.6 L1065.9,819.8 L1067.0,815.9 L1068.1,812.1 L1069.2,808.3 L1070.3,804.4 L1071.3,800.5 L1072.3,796.7 L1073.3,792.8 L1074.3,788.9 L1075.3,785.0 L1076.2,781.2 L1077.2,777.3 L1078.2,773.4 L1079.2,769.5 L1080.3,765.7 L1081.3,761.8 L1082.4,758.0 L1083.4,754.1 L1084.5,750.3 L1085.6,746.4 L1086.7,742.5 L1087.7,738.7 L1088.8,734.8 L1089.9,731.0 L1090.9,727.1 L1092.0,723.3 L1093.0,719.4 L1094.1,715.6 L1095.1,711.7 L1096.2,707.8 L1097.2,704.0 L1098.2,700.1 L1099.2,696.2 L1100.2,692.3 L1101.2,688.5 L1102.1,684.6 L1103.1,680.7 L1104.0,676.8 L1105.0,672.9 L1105.9,669.0 L1106.8,665.1 L1107.7,661.2 L1108.6,657.3 L1109.4,653.4 L1110.3,649.5 L1111.2,645.6 L1112.2,641.7 L1113.1,637.9 L1114.1,634.0 L1115.1,630.1 L1116.1,626.2 L1117.1,622.4 L1118.2,618.5 L1119.2,614.7 L1120.2,610.8 L1121.2,606.9 L1122.2,603.0 L1123.2,599.2 L1124.1,595.3 L1125.1,591.4 L1126.1,587.5 L1127.1,583.6 L1128.0,579.8 L1129.0,575.9 L1129.9,572.0 L1130.8,568.1 L1131.8,564.2 L1132.7,560.3 L1133.6,556.4 L1134.5,552.5 L1135.4,548.6 L1136.3,544.7 L1137.2,540.8 L1138.1,536.9 L1139.0,533.0 L1139.9,529.1 L1140.8,525.2 L1141.8,521.4 L1142.8,517.5 L1143.7,513.6 L1144.7,509.7 L1145.7,505.8 L1146.7,502.0 L1147.6,498.1 L1148.6,494.2 L1149.5,490.3 L1150.5,486.4 L1151.4,482.5 L1152.4,478.7 L1153.4,474.8 L1154.3,470.9 L1155.3,467.0 L1156.3,463.1 L1157.3,459.3 L1158.3,455.4 L1159.3,451.5 L1160.4,447.7 L1161.4,443.8 L1162.4,439.9 L1163.4,436.1 L1164.4,432.2 L1165.4,428.3 L1166.4,424.4 L1167.4,420.6 L1168.4,416.7 L1169.4,412.8 L1170.3,408.9 L1171.3,405.1 L1172.3,401.2 L1173.3,397.3 L1174.3,393.4 L1175.3,389.6 L1176.4,385.7 L1177.4,381.8 L1178.5,378.0 L1179.5,374.1 L1180.6,370.3 L1181.6,366.4 L1182.7,362.6 L1183.7,358.7 L1184.8,354.8 L1185.8,351.0 L1186.8,347.1 L1187.7,343.2 L1188.7,339.3 L1189.7,335.4 L1190.6,331.6 L1191.6,327.7 L1192.6,323.8 L1193.5,319.9 L1194.5,316.1 L1195.5,312.2 L1196.6,308.3 L1197.6,304.4 L1198.6,300.6 L1199.6,296.7 L1200.6,292.8 L1201.6,289.0 L1202.6,285.1 L1203.6,281.2 L1204.6,277.3 L1205.7,273.5 L1206.7,269.6 L1207.8,265.7 L1208.8,261.9 L1210.0,258.1 L1211.1,254.2 L1212.3,250.4 L1213.5,246.6 L1214.8,242.8 L1216.1,239.0 L1217.5,235.3 L1218.9,231.6 L1220.5,227.9 L1222.0,224.2 L1223.6,220.6 L1225.2,216.9 L1226.8,213.3 L1228.5,209.6 L1230.1,206.0 L1231.8,202.3 L1233.4,198.7 L1235.2,195.1 L1236.9,191.5 L1238.7,187.9 L1240.5,184.3 L1242.4,180.7 L1244.3,177.1 L1246.3,173.6 L1248.3,170.1 L1250.5,166.7 L1252.7,163.3 L1255.1,159.9 L1257.5,156.7 L1260.2,153.6 L1263.0,150.7 L1266.0,148.1 L1269.2,145.6 L1272.5,143.6 L1276.0,141.9 L1279.7,140.6 L1283.4,139.9 L1287.2,139.7 L1290.9,140.0 L1294.6,140.9 L1298.1,142.4 L1301.4,144.3 L1304.4,146.6 L1307.2,149.4 L1309.8,152.4 L1312.1,155.6 L1314.2,159.1 L1316.3,162.6 L1318.1,166.3 L1319.9,169.9 L1321.6,173.7 L1323.3,177.4 L1324.9,181.1 L1326.5,184.9 L1328.0,188.6 L1329.5,192.3 L1331.0,196.0 L1332.5,199.8 L1333.9,203.5 L1335.3,207.3 L1336.7,211.0 L1338.0,214.8 L1339.3,218.6 L1340.5,222.4 L1341.8,226.2 L1342.9,230.0 L1344.1,233.8 L1345.3,237.6 L1346.4,241.5 L1347.5,245.3 L1348.6,249.2 L1349.6,253.0 L1350.7,256.9 L1351.7,260.8 L1352.7,264.6 L1353.8,268.5 L1354.8,272.4 L1355.8,276.2 L1356.7,280.1 L1357.7,284.0 L1358.7,287.9 L1359.7,291.8 L1360.6,295.6 L1361.6,299.5 L1362.6,303.4 L1363.5,307.3 L1364.4,311.2 L1365.4,315.1 L1366.3,319.0 L1367.2,322.9 L1368.1,326.8 L1369.0,330.7 L1369.9,334.5 L1370.8,338.4 L1371.7,342.4 L1372.6,346.3 L1373.4,350.2 L1374.3,354.1 L1375.1,358.0 L1376.0,361.9 L1376.8,365.8 L1377.7,369.7 L1378.5,373.6 L1379.3,377.5 L1380.1,381.5 L1380.9,385.4 L1381.7,389.3 L1382.5,393.2 L1383.3,397.1 L1384.2,401.0 L1385.0,404.9 L1385.8,408.9 L1386.7,412.8 L1387.5,416.7 L1388.3,420.6 L1389.0,424.5 L1389.8,428.5 L1390.5,432.4 L1391.3,436.3 L1392.0,440.3 L1392.7,444.2 L1393.4,448.1 L1394.2,452.1 L1394.9,456.0 L1395.6,459.9 L1396.3,463.9 L1397.0,467.8 L1397.7,471.7 L1398.4,475.7 L1399.1,479.6 L1399.8,483.6 L1400.4,487.5 L1401.1,491.5 L1401.7,495.4 L1402.4,499.3 L1403.1,503.3 L1403.7,507.2 L1404.4,511.2 L1405.1,515.1 L1405.8,519.0 L1406.6,523.0 L1407.3,526.9 L1408.0,530.8 L1408.8,534.8 L1409.6,538.7 L1410.3,542.6 L1411.1,546.5 L1411.9,550.5 L1412.7,554.4 L1413.4,558.3 L1414.2,562.2 L1415.0,566.2 L1415.7,570.1 L1416.5,574.0 L1417.3,577.9 L1418.0,581.9 L1418.8,585.8 L1419.6,589.7 L1420.3,593.6 L1421.1,597.6 L1421.9,601.5 L1422.7,605.4 L1423.4,609.3 L1424.2,613.3 L1425.0,617.2 L1425.8,621.1 L1426.6,625.0 L1427.4,629.0 L1428.1,632.9 L1428.9,636.8 L1429.6,640.7 L1430.4,644.7 L1431.1,648.6 L1431.9,652.5 L1432.6,656.5 L1433.3,660.4 L1434.0,664.3 L1434.6,668.3 L1435.3,672.2 L1436.0,676.2 L1436.6,680.1 L1437.3,684.1 L1437.9,688.0 L1438.6,692.0 L1439.2,695.9 L1439.9,699.9 L1440.5,703.8 L1441.1,707.8 L1441.8,711.7 L1442.4,715.7 L1443.1,719.6 L1443.7,723.5 L1444.4,727.5 L1445.0,731.4 L1445.7,735.4 L1446.4,739.3 L1447.0,743.3 L1447.7,747.2 L1448.4,751.2 L1449.2,755.1 L1449.9,759.0 L1450.7,762.9 L1451.5,766.8 L1452.3,770.7 L1453.2,774.6 L1454.2,778.5 L1455.2,782.4 L1456.2,786.3 L1457.1,790.1 L1458.1,794.0 L1459.0,797.9 L1459.8,801.8 L1460.7,805.7 L1461.5,809.6 L1462.3,813.5 L1463.1,817.5 L1463.9,821.4 L1464.7,825.3 L1465.5,829.2 L1466.3,833.1 L1467.0,837.1 L1467.8,841.0 L1468.5,844.9 L1469.2,848.9 L1469.9,852.8 L1470.6,856.8 L1471.3,860.7 L1472.0,864.6 L1472.7,868.6 L1473.4,872.5 L1474.1,876.4 L1474.9,880.4 L1475.7,884.3 L1476.5,888.2 L1477.4,892.1 L1478.2,896.0 L1479.1,899.9 L1480.0,903.8 L1481.0,907.7 L1481.9,911.6 L1482.9,915.5 L1483.9,919.3 L1484.9,923.2 L1485.9,927.1 L1486.9,931.0 L1487.9,934.8 L1488.9,938.7 L1489.9,942.6 L1491.0,946.4 L1492.0,950.3 L1493.0,954.1 L1494.1,958.0 L1495.2,961.9 L1496.2,965.7 L1497.3,969.6 L1498.4,973.4 L1499.5,977.3 L1500.6,981.1 L1501.7,985.0 L1502.7,988.8 L1503.8,992.7 L1504.9,996.5 L1506.0,1000.4 L1507.1,1004.2 L1508.2,1008.1 L1509.4,1011.9 L1510.5,1015.7 L1511.7,1019.5 L1512.9,1023.3 L1514.2,1027.1 L1515.5,1030.9 L1516.8,1034.7 L1518.1,1038.5 L1519.4,1042.3 L1520.8,1046.0 L1522.2,1049.8 L1523.7,1053.5 L1525.1,1057.2 L1526.6,1060.9 L1528.2,1064.6 L1529.7,1068.3 L1531.3,1072.0 L1533.0,1075.6 L1534.7,1079.2 L1536.4,1082.8 L1538.2,1086.4 L1540.0,1090.0 L1541.9,1093.5 L1543.9,1097.0 L1545.9,1100.5 L1547.9,1103.9 L1550.0,1107.3 L1552.2,1110.7 L1554.5,1114.0 L1556.8,1117.3 L1559.2,1120.5 L1561.6,1123.7 L1564.1,1126.7 L1566.8,1129.8 L1569.5,1132.7 L1572.3,1135.5 L1575.2,1138.2 L1578.2,1140.8 L1581.4,1143.2 L1584.6,1145.5 L1588.0,1147.7 L1591.4,1149.8 L1594.8,1151.8 L1598.3,1153.7 L1601.8,1155.6 L1605.3,1157.6 L1608.8,1159.5 L1612.3,1161.5 L1615.7,1163.6 L1618.8,1165.5"/>
</g>
<rect x="336.5" y="77.5" width="588" height="277" fill="#fff" stroke="#000" stroke-width="3"/>
<path d="M336,112 H471" stroke="#000" stroke-width="6" fill="none"/>
<text transform="translate(484.4,132) scale(1.0,1.048)" font-size="57" text-anchor="start">PMMA</text>
<path d="M336,182 H471" stroke="#f00" stroke-width="6" fill="none"/>
<text transform="translate(484.4,202) scale(1.0,1.048)" font-size="57" text-anchor="start">PMMA+0.1% GO</text>
<path d="M336,252 H471" stroke="#00f" stroke-width="6" fill="none"/>
<text transform="translate(484.4,272) scale(1.0,1.048)" font-size="57" text-anchor="start">PMMA+0.5% GO</text>
<path d="M336,322 H471" stroke="#008080" stroke-width="6" fill="none"/>
<text transform="translate(484.4,342) scale(1.0,1.048)" font-size="57" text-anchor="start">PMMA+1.0% GO</text>
<text transform="translate(270.5,1178.4) scale(1.0,1.02)" font-size="56" text-anchor="end">0.0</text>
<text transform="translate(270.5,994.6) scale(1.0,1.02)" font-size="56" text-anchor="end">0.2</text>
<text transform="translate(270.5,810.9) scale(1.0,1.02)" font-size="56" text-anchor="end">0.4</text>
<text transform="translate(270.5,627.1) scale(1.0,1.02)" font-size="56" text-anchor="end">0.6</text>
<text transform="translate(270.5,443.4) scale(1.0,1.02)" font-size="56" text-anchor="end">0.8</text>
<text transform="translate(270.5,259.6) scale(1.0,1.02)" font-size="56" text-anchor="end">1.0</text>
<text transform="translate(270.5,75.9) scale(1.0,1.02)" font-size="56" text-anchor="end">1.2</text>
<text transform="translate(306.5,1246.6) scale(1.0,1.065)" font-size="62" text-anchor="middle">3.0</text>
<text transform="translate(492.8,1246.6) scale(1.0,1.065)" font-size="62" text-anchor="middle">3.5</text>
<text transform="translate(679.1,1246.6) scale(1.0,1.065)" font-size="62" text-anchor="middle">4.0</text>
<text transform="translate(865.4,1246.6) scale(1.0,1.065)" font-size="62" text-anchor="middle">4.5</text>
<text transform="translate(1051.8,1246.6) scale(1.0,1.065)" font-size="62" text-anchor="middle">5.0</text>
<text transform="translate(1238.1,1246.6) scale(1.0,1.065)" font-size="62" text-anchor="middle">5.5</text>
<text transform="translate(1424.4,1246.6) scale(1.0,1.065)" font-size="62" text-anchor="middle">6.0</text>
<text transform="translate(1610.7,1246.6) scale(1.0,1.065)" font-size="62" text-anchor="middle">6.5</text>
<text transform="translate(1797.0,1246.6) scale(1.0,1.065)" font-size="62" text-anchor="middle">7.0</text>
<text transform="translate(1052,1370) scale(1.0,1.0)" font-size="85" text-anchor="middle">log(Mw)</text>
<text transform="translate(95,648) rotate(-90)" font-size="85.5" text-anchor="middle">dW/dlog(M)</text>
<text transform="translate(986.8,1498) scale(0.9,1.0)" font-size="76" text-anchor="end" class="ser">(</text>
<text transform="translate(1008.6,1498) scale(0.95,1.0)" font-size="78" text-anchor="middle" class="ser" font-weight="bold">a</text>
<text transform="translate(1027.2,1498) scale(0.9,1.0)" font-size="76" text-anchor="start" class="ser">)</text>
</svg></body></html>
